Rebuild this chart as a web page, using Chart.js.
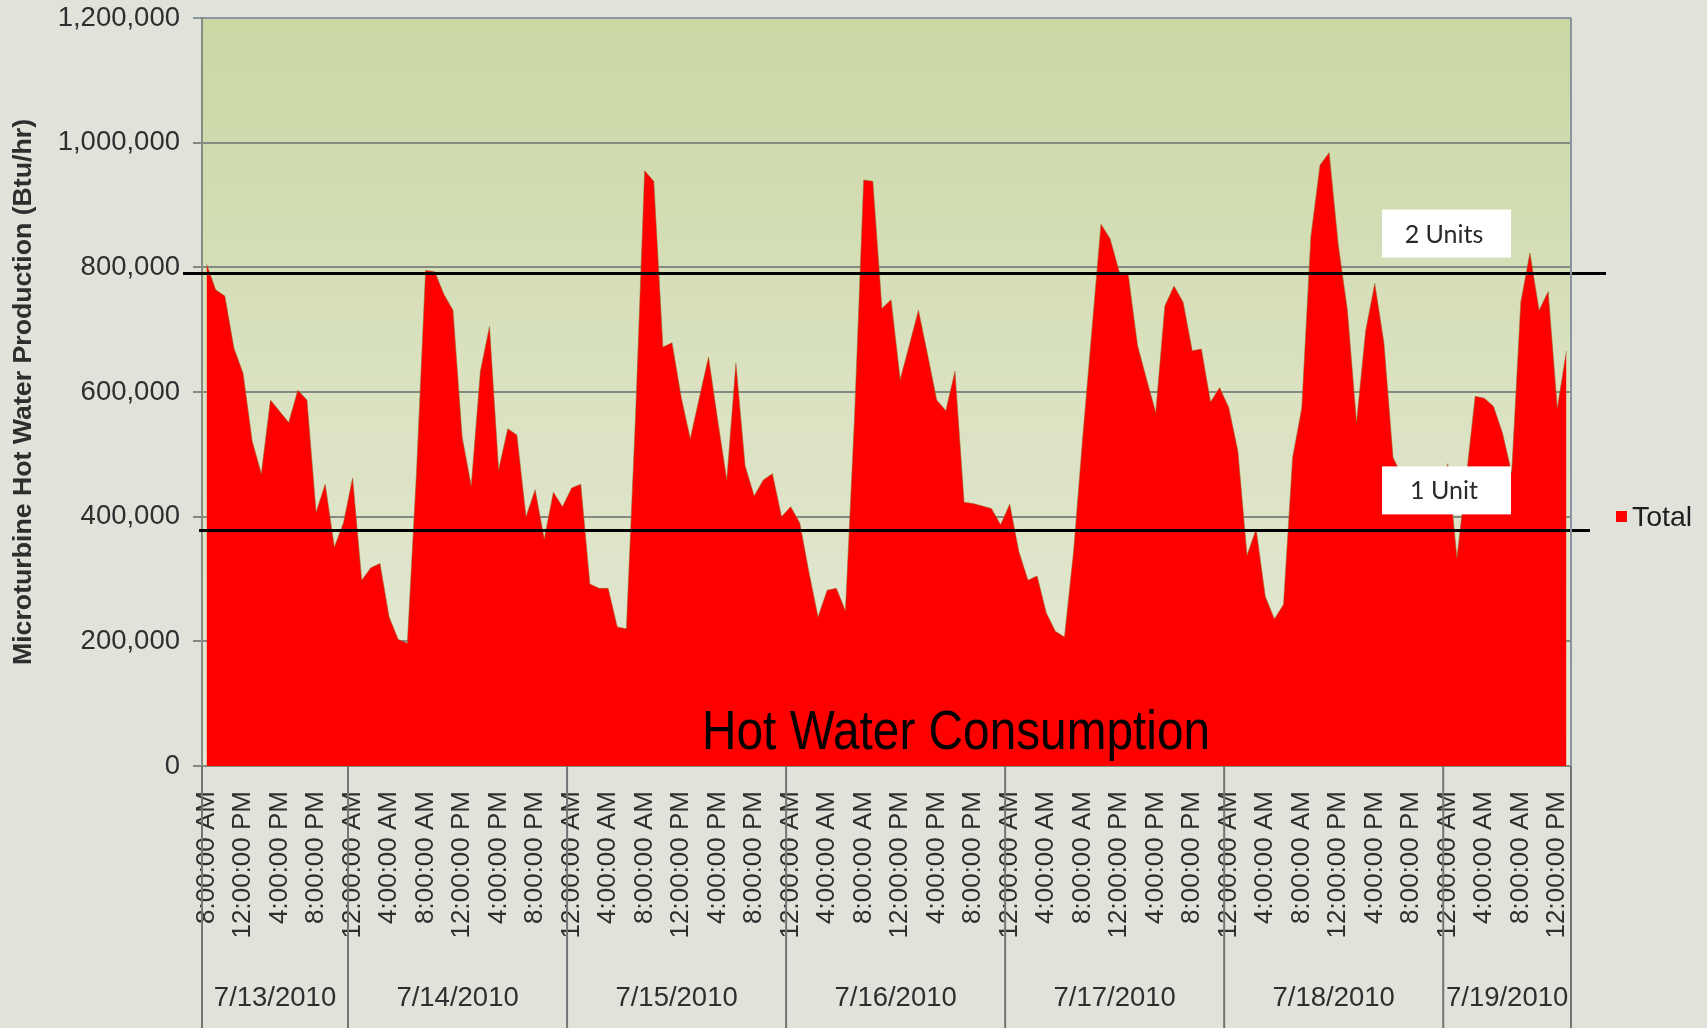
<!DOCTYPE html>
<html>
<head>
<meta charset="utf-8">
<title>Hot Water Consumption</title>
<script src="https://cdn.jsdelivr.net/npm/chart.js@4.4.0/dist/chart.umd.min.js"></script>
<style>
  html, body { margin: 0; padding: 0; background: #e1e2da; }
  #wrap { position: relative; width: 1707px; height: 1028px; }
</style>
</head>
<body>
<div id="wrap"><canvas id="hotWater"></canvas></div>
<script>
// hourly readings, 7/13/2010 8:00 AM through 7/19/2010 1:00 PM
var startHour = 8;
var dayLabels = ['7/13/2010', '7/14/2010', '7/15/2010', '7/16/2010', '7/17/2010', '7/18/2010', '7/19/2010'];

// Btu/hr
var totalBtu = [
  805000, 764000, 754000, 670000, 630000, 521000, 469000, 587000, 569000, 551000,
  603000, 587000, 407000, 452000, 351000, 390000,
  // 7/14
  462000, 298000, 318000, 325000, 239000, 203000, 197000, 470000, 795000, 793000,
  757000, 731000, 528000, 449000, 633000, 705000, 475000, 541000, 531000, 400000,
  443000, 364000, 439000, 416000,
  // 7/15
  446000, 452000, 292000, 285000, 285000, 223000, 220000, 560000, 955000, 938000,
  672000, 679000, 592000, 525000, 591000, 656000, 555000, 459000, 646000, 482000,
  433000, 459000, 469000, 400000,
  // 7/16
  416000, 390000, 311000, 239000, 282000, 285000, 249000, 560000, 940000, 938000,
  734000, 748000, 620000, 675000, 731000, 660000, 587000, 570000, 633000, 423000,
  421000, 417000, 413000, 387000,
  // 7/17
  420000, 344000, 298000, 305000, 246000, 216000, 207000, 344000, 527000, 698000,
  869000, 846000, 793000, 787000, 675000, 620000, 567000, 738000, 770000, 744000,
  666000, 669000, 584000, 607000,
  // 7/18
  575000, 505000, 338000, 380000, 272000, 236000, 259000, 495000, 574000, 849000,
  964000, 984000, 836000, 731000, 551000, 698000, 774000, 679000, 495000, 465000,
  450000, 440000, 430000, 425000,
  // 7/19
  485000, 334000, 460000, 593000, 590000, 577000, 534000, 470000, 744000, 823000,
  731000, 761000, 574000, 666000
];

var twoUnitLevel = 790000;
var oneUnitLevel = 378000;

function hourLabel(h) {
  var h12 = h % 12 === 0 ? 12 : h % 12;
  return h12 + ':00:00 ' + (h < 12 ? 'AM' : 'PM');
}

var hours = [];
var dayStarts = [0];
for (var i = 0; i < totalBtu.length; i++) {
  var h = (startHour + i) % 24;
  hours.push(hourLabel(h));
  if (h === 0 && i > 0) dayStarts.push(i);
}
dayStarts.push(totalBtu.length);

Chart.defaults.font.family = '"Liberation Sans", Arial, sans-serif';

var gridGray = '#858b83';
var textGray = '#2e2e2e';

var decorations = {
  id: 'decorations',
  beforeDraw: function (chart) {
    var ctx = chart.ctx, a = chart.chartArea;
    ctx.save();
    ctx.fillStyle = '#e1e2da';
    ctx.fillRect(0, 0, chart.width, chart.height);
    var g = ctx.createLinearGradient(0, a.top, 0, a.bottom);
    g.addColorStop(0, '#cbd7a3');
    g.addColorStop(0.5, '#dae2c1');
    g.addColorStop(1, '#e4e8d4');
    ctx.fillStyle = g;
    ctx.fillRect(a.left, a.top, a.right - a.left, a.bottom - a.top);
    ctx.restore();
  },
  afterDatasetsDraw: function (chart) {
    var ctx = chart.ctx, a = chart.chartArea, y = chart.scales.y;
    ctx.save();

    // caption inside the plot
    ctx.fillStyle = '#000';
    ctx.font = '55px "Liberation Sans Narrow", "Liberation Sans", Arial, sans-serif';
    var cap = 'Hot Water Consumption';
    var w = ctx.measureText(cap).width;
    ctx.translate(a.left + (a.right - a.left) * 0.5508, a.bottom - 17);
    ctx.scale(508 / w, 1);
    ctx.textAlign = 'center';
    ctx.textBaseline = 'alphabetic';
    ctx.fillText(cap, 0, 0);
    ctx.setTransform(1, 0, 0, 1, 0, 0);

    // unit lines
    ctx.strokeStyle = '#000';
    ctx.lineWidth = 3;
    var y2 = y.getPixelForValue(twoUnitLevel);
    var y1 = y.getPixelForValue(oneUnitLevel);
    ctx.beginPath();
    ctx.moveTo(a.left - 19, y2); ctx.lineTo(a.right + 35, y2);
    ctx.moveTo(a.left - 3, y1); ctx.lineTo(a.right + 19, y1);
    ctx.stroke();

    // unit boxes
    var boxes = [['2 Units', y2], ['1 Unit', y1]];
    ctx.font = '25px Lato, "Open Sans", sans-serif';
    ctx.textAlign = 'center';
    ctx.textBaseline = 'middle';
    boxes.forEach(function (b) {
      var bx = a.right - 189, by = b[1] - 64;
      ctx.fillStyle = '#ffffff';
      ctx.fillRect(bx, by, 129, 48);
      ctx.fillStyle = '#2a2a2a';
      ctx.fillText(b[0], bx + 62, by + 25);
    });
    ctx.restore();
  },
  afterDraw: function (chart) {
    var ctx = chart.ctx, a = chart.chartArea, x = chart.scales.x;
    var step = x.getPixelForValue(1) - x.getPixelForValue(0);
    ctx.save();

    // right border of the plot
    ctx.strokeStyle = '#8a94a0';
    ctx.lineWidth = 2;
    ctx.beginPath();
    ctx.moveTo(a.right, a.top); ctx.lineTo(a.right, a.bottom);
    ctx.stroke();

    // day separators and date labels
    var edges = dayStarts.map(function (k) {
      return k < totalBtu.length ? x.getPixelForValue(k) - step / 2
                                 : x.getPixelForValue(k - 1) + step / 2;
    });
    ctx.strokeStyle = '#747474';
    ctx.beginPath();
    edges.forEach(function (ex) {
      ctx.moveTo(ex, a.bottom); ctx.lineTo(ex, chart.height);
    });
    ctx.stroke();

    ctx.fillStyle = textGray;
    ctx.font = '27.5px "Liberation Sans", Arial, sans-serif';
    ctx.textAlign = 'center';
    ctx.textBaseline = 'middle';
    for (var d = 0; d < dayLabels.length; d++) {
      ctx.fillText(dayLabels[d], (edges[d] + edges[d + 1]) / 2, 998);
    }

    // legend
    ctx.fillStyle = '#ff0000';
    ctx.fillRect(a.right + 45, 511, 11, 11);
    ctx.fillStyle = '#1e1e1e';
    ctx.textAlign = 'left';
    ctx.font = '28.5px "Liberation Sans", Arial, sans-serif';
    ctx.fillText('Total', a.right + 61, 518);
    ctx.restore();
  }
};

new Chart(document.getElementById('hotWater'), {
  type: 'line',
  data: {
    labels: hours,
    datasets: [{
      label: 'Total',
      data: totalBtu,
      fill: 'origin',
      backgroundColor: '#ff0000',
      borderColor: 'rgba(150, 100, 40, 0.55)',
      borderWidth: 1,
      pointRadius: 0,
      tension: 0
    }]
  },
  options: {
    responsive: true,
    maintainAspectRatio: false,
    animation: false,
    devicePixelRatio: 1,
    layout: { padding: { left: 0, top: 18, right: 136, bottom: 0 } },
    plugins: { legend: { display: false }, tooltip: { enabled: false } },
    scales: {
      x: {
        type: 'category',
        offset: true,
        grid: { display: false, drawTicks: false },
        border: { display: false },
        ticks: {
          autoSkip: false,
          minRotation: 90,
          maxRotation: 90,
          padding: 25,
          color: textGray,
          font: { size: 26 },
          callback: function (val, index) {
            return index % 4 === 0 ? hours[index] : '';
          }
        },
        afterFit: function (scale) { scale.height = 262; }
      },
      y: {
        min: 0,
        max: 1200000,
        ticks: {
          stepSize: 200000,
          padding: 13,
          color: textGray,
          font: { size: 27.5 },
          callback: function (v) { return v.toLocaleString('en-US'); }
        },
        grid: {
          color: function (c) { return c.tick && c.tick.value === 1200000 ? '#8a94a0' : gridGray; },
          lineWidth: 2,
          tickLength: 9
        },
        border: { display: true, color: gridGray, width: 2 },
        title: {
          display: true,
          text: 'Microturbine Hot Water Production (Btu/hr)',
          color: textGray,
          font: { size: 26.7, weight: 'bold' },
          padding: { top: 8, bottom: 0 }
        },
        afterFit: function (scale) {
          scale.width = 202;
          scale.paddingTop = 0;
          scale.paddingBottom = 0;
        }
      }
    }
  },
  plugins: [decorations]
});
</script>
</body>
</html>
